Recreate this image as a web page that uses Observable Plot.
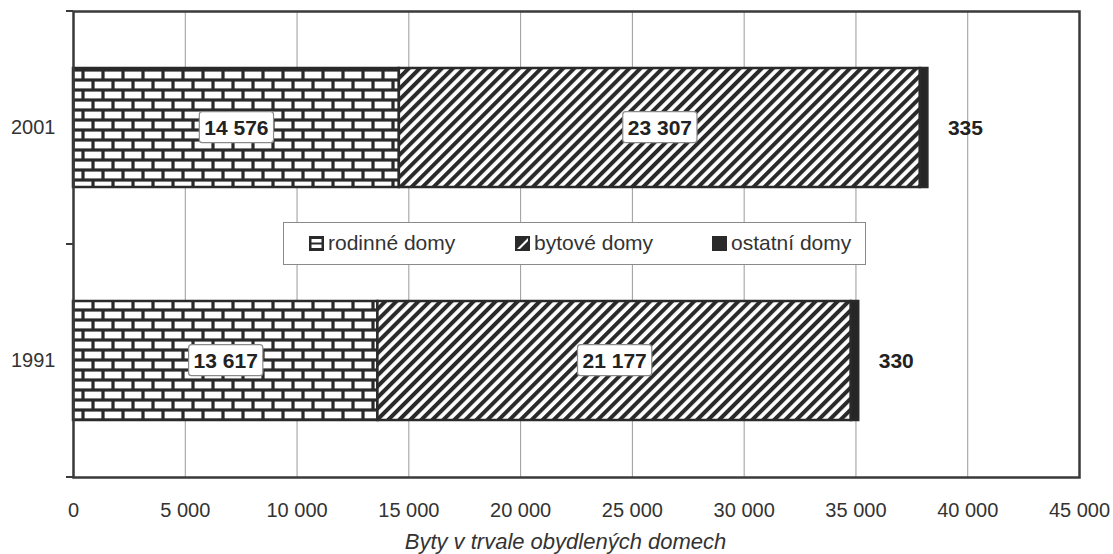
<!DOCTYPE html>
<html>
<head>
<meta charset="utf-8">
<script src="https://cdn.jsdelivr.net/npm/d3@7"></script>
<script src="https://cdn.jsdelivr.net/npm/@observablehq/plot@0.6"></script>
<style>
  body { margin: 0; background: #fff; }
  #wrap { position: relative; width: 1113px; height: 554px; font-family: "Liberation Sans", Arial, sans-serif; }
  #legend { position: absolute; left: 283px; top: 222px; width: 583px; height: 43px; box-sizing: border-box;
            border: 1.5px solid #8a8a8a; background: #fff; }
  .item { position: absolute; top: 0; height: 40px; display: flex; align-items: center; font-size: 21px; color: #333; }
  .item svg { margin-right: 4px; }
</style>
</head>
<body>
<div id="wrap"></div>
<script>
// ---- data ----
const years = ["2001", "1991"];
const seriesNames = ["rodinné domy", "bytové domy", "ostatní domy"];
const rodinne = [14576, 13617];
const bytove = [23307, 21177];
const ostatni = [335, 330];
const xTicks = [0, 5000, 10000, 15000, 20000, 25000, 30000, 35000, 40000, 45000];
const axisTitle = "Byty v trvale obydlených domech";

const seriesValues = [rodinne, bytove, ostatni];
const data = years.flatMap((year, i) =>
  seriesNames.map((series, s) => ({year, series, value: seriesValues[s][i]})));
const totals = years.map((year, i) => ({year, total: rodinne[i] + bytove[i] + ostatni[i], value: ostatni[i]}));

const fmt = d3.formatLocale({decimal: ",", thousands: " ", grouping: [3], currency: ["", ""]}).format(",d");
const dark = "#2a2a2a";
const font = "'Liberation Sans', Arial, sans-serif";

const plot = Plot.plot({
  width: 1113,
  height: 554,
  marginLeft: 73,
  marginRight: 34,
  marginTop: 11,
  marginBottom: 77,
  style: {fontFamily: font, color: "#333", background: "#fff"},
  x: {domain: [0, 45000]},
  y: {domain: years, padding: 0},
  color: {domain: seriesNames, range: ["url(#brick)", "url(#hatch)", "#262626"]},
  marks: [
    Plot.gridX(xTicks, {stroke: "#9a9a9a", strokeOpacity: 1, strokeWidth: 1}),
    Plot.barX(data, Plot.stackX({
      x: "value", y: "year", fill: "series", z: "series", order: seriesNames,
      insetTop: 57, insetBottom: 57, stroke: dark, strokeWidth: 2.5
    })),
    Plot.text(data, Plot.stackX({
      x: "value", y: "year", z: "series", order: seriesNames,
      filter: d => d.series !== "ostatní domy",
      text: d => fmt(d.value), fontWeight: "bold", fontSize: 21, fill: "#222"
    })),
    Plot.text(totals, {x: "total", y: "year", text: d => fmt(d.value), textAnchor: "start", dx: 20,
      fontWeight: "bold", fontSize: 21, fill: "#222"}),
    Plot.frame({stroke: "#3a3a3a", strokeWidth: 2.5}),
    Plot.axisX(xTicks, {tickFormat: fmt, tickSize: 0, tickPadding: 25, fontSize: 20, label: null, fill: "#333"}),
    Plot.axisY({tickSize: 0, tickPadding: 18, fontSize: 20, label: null, fill: "#333"}),
    Plot.text([axisTitle], {frameAnchor: "bottom", dy: 64, dx: -11, lineAnchor: "middle",
      fontStyle: "italic", fontSize: 22, fill: "#333"})
  ]
});

const wrap = document.getElementById("wrap");
wrap.appendChild(plot);

// patterns
const svg = d3.select(plot);
const defs = svg.insert("defs", ":first-child");
const brick = defs.append("pattern").attr("id", "brick").attr("patternUnits", "userSpaceOnUse")
  .attr("width", 20).attr("height", 20).attr("x", 73).attr("y", 0);
brick.append("rect").attr("width", 20).attr("height", 20).attr("fill", dark);
brick.append("rect").attr("x", 1.6).attr("y", 1.6).attr("width", 16.8).attr("height", 6.8).attr("fill", "#fff");
brick.append("rect").attr("x", -8.4).attr("y", 11.6).attr("width", 16.8).attr("height", 6.8).attr("fill", "#fff");
brick.append("rect").attr("x", 11.6).attr("y", 11.6).attr("width", 16.8).attr("height", 6.8).attr("fill", "#fff");
const hatch = defs.append("pattern").attr("id", "hatch").attr("patternUnits", "userSpaceOnUse")
  .attr("width", 7.8).attr("height", 7.8).attr("patternTransform", "rotate(45)");
hatch.append("rect").attr("width", 7.8).attr("height", 7.8).attr("fill", "#fff");
hatch.append("rect").attr("width", 4).attr("height", 7.8).attr("fill", dark);

// boxes behind segment labels
const segLabels = new Set(data.filter(d => d.series !== "ostatní domy").map(d => fmt(d.value)));
svg.selectAll("text").filter(function() { return segLabels.has(this.textContent); }).each(function() {
  const b = this.getBBox();
  const t = this;
  d3.select(t.parentNode).insert("rect", () => t)
    .attr("transform", t.getAttribute("transform"))
    .attr("x", b.x - 5).attr("y", b.y - 4).attr("width", b.width + 10).attr("height", b.height + 8)
    .attr("rx", 3).attr("fill", "#fff").attr("stroke", "#8a8a8a").attr("stroke-width", 1.2);
});

// category boundary ticks on the y axis
const ys = plot.scale("y");
const xs = plot.scale("x");
const x0 = xs.apply(0);
const tickG = svg.append("g");
d3.range(years.length + 1).forEach(i => {
  const y = ys.range[0] + i * ys.step;
  tickG.append("line").attr("x1", x0 - 7).attr("x2", x0).attr("y1", y).attr("y2", y)
    .attr("stroke", "#3a3a3a").attr("stroke-width", 2);
});

// legend
const legend = document.createElement("div");
legend.id = "legend";
const swatches = [
  `<svg width="15" height="15"><rect width="15" height="15" fill="${dark}"/><rect x="2.5" y="3" width="10" height="3.5" fill="#fff"/><rect x="2.5" y="8.5" width="10" height="3.5" fill="#fff"/></svg>`,
  `<svg width="15" height="15"><rect width="15" height="15" fill="${dark}"/><polygon points="2,13 5,13 13,5 13,2" fill="#fff"/></svg>`,
  `<svg width="15" height="15"><rect width="15" height="15" fill="${dark}"/></svg>`
];
const lefts = [25, 231, 428];
seriesNames.forEach((name, i) => {
  const it = document.createElement("div");
  it.className = "item";
  it.style.left = lefts[i] + "px";
  it.innerHTML = swatches[i] + `<span>${name}</span>`;
  legend.appendChild(it);
});
wrap.appendChild(legend);
</script>
</body>
</html>
